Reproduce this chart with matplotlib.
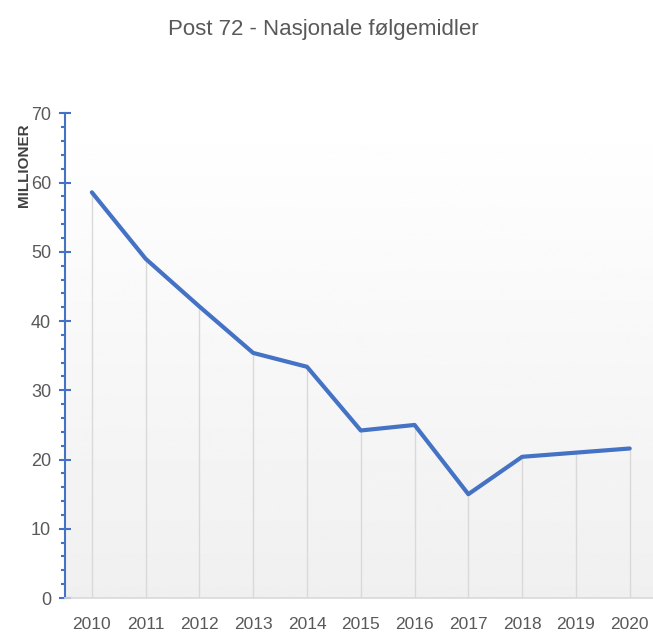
import numpy as np
from matplotlib import pyplot as plt
from matplotlib.ticker import MultipleLocator

years = [2010, 2011, 2012, 2013, 2014, 2015, 2016, 2017, 2018, 2019, 2020]
values = [58.6, 49.0, 42.1, 35.4, 33.4, 24.2, 25.0, 15.0, 20.4, 21.0, 21.6]
y_ticks = [0, 10, 20, 30, 40, 50, 60, 70]

plt.rcParams['font.family'] = ['Liberation Sans', 'DejaVu Sans']
blue = '#4472C4'
gray_txt = '#595959'

fig = plt.figure(figsize=(6.53, 6.36), dpi=100)
ax = fig.add_axes([0.0995, 0.0597, 0.906, 0.762])

ax.set_xlim(years[0] - 0.5, years[-1] + 0.5)
ax.set_ylim(0, 70)

# background gradient, white at top to light gray at bottom
grad = np.linspace(1.0, 0.94, 256).reshape(-1, 1)
ax.imshow(grad, cmap='gray', vmin=0, vmax=1, aspect='auto', origin='upper',
          extent=[years[0] - 0.5, years[-1] + 0.5, 0, 70], zorder=0)

# drop lines
ax.vlines(years, 0, values, color='#d9d9d9', lw=1.0, zorder=1)
ax.plot(years, values, color=blue, lw=3, solid_capstyle='round', zorder=3)

for s in ['top', 'right']:
    ax.spines[s].set_visible(False)
ax.spines['bottom'].set_color('#d9d9d9')
ax.spines['bottom'].set_linewidth(1.2)
ax.spines['left'].set_color(blue)
ax.spines['left'].set_linewidth(1.5)

ax.set_yticks(y_ticks)
ax.yaxis.set_minor_locator(MultipleLocator(2))
ax.tick_params(axis='y', which='major', direction='inout', length=8, width=1.5,
               color=blue, labelcolor=gray_txt, labelsize=13, pad=6)
ax.tick_params(axis='y', which='minor', direction='out', length=3, width=1.5, color=blue)
ax.set_xticks(years)
ax.tick_params(axis='x', length=0, labelcolor=gray_txt, labelsize=12.5, pad=14)

fig.text(0.495, 0.953, 'Post 72 - Nasjonale følgemidler', ha='center', va='center',
         fontsize=16, color=gray_txt)
fig.text(0.037, 0.74, 'MILLIONER', rotation=90, ha='center', va='center',
         fontsize=11, fontweight='bold', color='#404040')

fig.savefig('out.png', dpi=100)
